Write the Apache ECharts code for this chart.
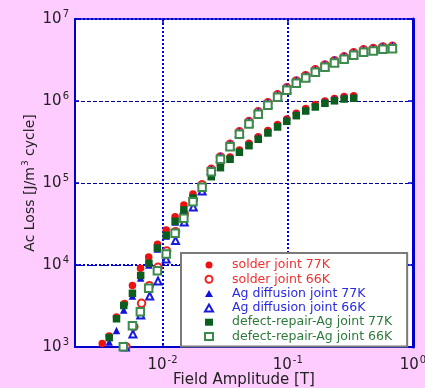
<!DOCTYPE html>
<html>
<head>
<meta charset="utf-8">
<script src="https://cdn.jsdelivr.net/npm/echarts@6/dist/echarts.min.js"></script>
<style>
  html, body { margin: 0; padding: 0; background: #ffccff; }
  #main { width: 425px; height: 388px; }
</style>
</head>
<body>
<div id="main"></div>
<script>
// [field amplitude (T), ac loss (J/m3 cycle)]
var solder77 = [
  [0.0033, 1100], [0.00375, 1360], [0.00429, 2320], [0.00497, 3400], [0.00575, 5620],
  [0.00667, 9120], [0.00775, 12500], [0.00912, 17900], [0.0107, 26700], [0.0126, 38800],
  [0.0148, 53900], [0.0175, 73500], [0.0207, 97200], [0.0245, 127800], [0.029, 164600],
  [0.0346, 208200], [0.0411, 253300], [0.049, 305100], [0.0581, 365200], [0.0694, 435900],
  [0.0829, 515600], [0.0982, 604800], [0.117, 708300], [0.139, 808300], [0.166, 904000],
  [0.198, 1003000], [0.236, 1075000], [0.282, 1131000], [0.336, 1155000]
];
var solder66 = [
  [0.0051, 1010], [0.0059, 1770], [0.0068, 3410], [0.00785, 5600], [0.0092, 9380],
  [0.0108, 14800], [0.0127, 25500], [0.0149, 41500], [0.0176, 63000], [0.0207, 94600],
  [0.0245, 147000], [0.029, 208200], [0.0346, 296900], [0.0411, 420300], [0.049, 561500],
  [0.0581, 737200], [0.0694, 949200], [0.0829, 1188000], [0.0982, 1450000], [0.117, 1759000],
  [0.139, 2039000], [0.166, 2401000], [0.198, 2756000], [0.236, 3107000], [0.282, 3459000],
  [0.336, 3873000], [0.403, 4203000], [0.482, 4359000], [0.575, 4568000], [0.685, 4649000]
];
var agDiff77 = [
  [0.00375, 1150], [0.00429, 1590], [0.0049, 2830], [0.00575, 4190], [0.00669, 6940],
  [0.00778, 10000], [0.00909, 15700], [0.0107, 22500], [0.0126, 33500], [0.0148, 46500],
  [0.0175, 66000], [0.0207, 90000], [0.0245, 123600], [0.029, 159200], [0.0346, 201400],
  [0.0411, 245000], [0.049, 295100], [0.0581, 353200], [0.0694, 421700], [0.0829, 498800],
  [0.0982, 585000], [0.117, 685200], [0.139, 781800], [0.166, 874600], [0.198, 970400],
  [0.236, 1040000], [0.282, 1094000], [0.336, 1117000]
];
var agDiff66 = [
  [0.00505, 1000], [0.0058, 1440], [0.0067, 2460], [0.0079, 4190], [0.0092, 6380],
  [0.0107, 11800], [0.0127, 19900], [0.0149, 33400], [0.0176, 50900], [0.0207, 79800],
  [0.0245, 142200], [0.029, 201400], [0.0346, 287200], [0.0411, 406500], [0.049, 543200],
  [0.0581, 713100], [0.0694, 918100], [0.0829, 1149000], [0.0982, 1402000], [0.117, 1702000],
  [0.139, 1973000], [0.166, 2323000], [0.198, 2666000], [0.236, 3006000], [0.282, 3346000],
  [0.336, 3747000], [0.403, 4065000], [0.482, 4217000], [0.575, 4418000], [0.685, 4497000]
];
var repair77 = [
  [0.00375, 1300], [0.00429, 2210], [0.0049, 3210], [0.00575, 4520], [0.00669, 7450],
  [0.00778, 10500], [0.00909, 16100], [0.0107, 23000], [0.0126, 34100], [0.0148, 46900],
  [0.0175, 65700], [0.0207, 89300], [0.0245, 119400], [0.029, 153800], [0.0346, 194600],
  [0.0411, 236700], [0.049, 285100], [0.0581, 341300], [0.0694, 407400], [0.0829, 481900],
  [0.0982, 565200], [0.117, 662000], [0.139, 755400], [0.166, 845000], [0.198, 937600],
  [0.236, 1005000], [0.282, 1057000], [0.336, 1079000]
];
var repair66 = [
  [0.00486, 1010], [0.00575, 1820], [0.00665, 2690], [0.00775, 5200], [0.0091, 8510],
  [0.0107, 13600], [0.0126, 24400], [0.0148, 37200], [0.0175, 59200], [0.0207, 88700],
  [0.0245, 137400], [0.029, 194600], [0.0346, 277500], [0.0411, 392800], [0.049, 524800],
  [0.0581, 689000], [0.0694, 887100], [0.0829, 1110000], [0.0982, 1355000], [0.117, 1644000],
  [0.139, 1906000], [0.166, 2244000], [0.198, 2576000], [0.236, 2904000], [0.282, 3233000],
  [0.336, 3620000], [0.403, 3928000], [0.482, 4074000], [0.575, 4269000], [0.685, 4345000]
];

var seriesNames = [
  'solder joint 77K', 'solder joint 66K',
  'Ag diffusion joint 77K', 'Ag diffusion joint 66K',
  'defect-repair-Ag joint 77K', 'defect-repair-Ag joint 66K'
];
var seriesData = [solder77, solder66, agDiff77, agDiff66, repair77, repair66];
var symbols = ['circle', 'emptyCircle', 'triangle', 'emptyTriangle', 'rect', 'emptyRect'];
var colors = ['#ee1111', '#ee2222', '#1111dd', '#1a1add', '#0b5e1e', '#3c8a4c'];
var textColors = ['#f03030', '#f03030', '#2a2ae6', '#2a2ae6', '#2e7a3c', '#2e7a3c'];
var sizes = [7.5, 7.5, 7.5, 7, 7.5, 7.5];

var BLUE = '#0000cc';

function powLabel(v) {
  var e = Math.log10(v);
  if (Math.abs(e - Math.round(e)) > 1e-6) return '';
  return '{b|10}{s|' + Math.round(e) + '}';
}

var labelRich = {
  b: { fontSize: 15, fontFamily: 'DejaVu Sans', color: '#222' },
  s: { fontSize: 10, fontFamily: 'DejaVu Sans', color: '#222', padding: [0, 0, 10, 1] }
};

var chart = echarts.init(document.getElementById('main'), null, { renderer: 'canvas' });

var series = seriesNames.map(function (name, i) {
  var empty = symbols[i].indexOf('empty') === 0;
  return {
    name: name,
    type: 'scatter',
    data: seriesData[i],
    symbol: symbols[i],
    symbolSize: sizes[i],
    clip: false,
    itemStyle: {
      color: colors[i],
      borderWidth: empty ? 1.3 : 0,
      opacity: 1
    },
    markLine: i === 0 ? {
      silent: true,
      z: 1,
      symbol: ['none', 'none'],
      label: { show: false },
      lineStyle: { type: 'dotted', width: 2, color: '#0000dd' },
      data: [{ yAxis: 10000 }]
    } : undefined
  };
});

var option = {
  backgroundColor: '#ffccff',
  animation: false,
  grid: {
    left: 75, top: 19, right: 12, bottom: 41,
    outerBoundsMode: 'none',
    show: true, backgroundColor: '#ffffff', borderWidth: 0
  },
  legend: {
    orient: 'vertical',
    left: 181,
    top: 253,
    z: 10,
    padding: [5, 15, 3, 23],
    itemWidth: 8,
    itemHeight: 7,
    itemGap: 0.3,
    backgroundColor: '#ffffff',
    borderColor: '#7a7a7a',
    borderWidth: 2,
    borderRadius: 0,
    textStyle: { fontSize: 12.5, fontFamily: 'DejaVu Sans', lineHeight: 14, padding: [0, 0, 0, 14] },
    data: seriesNames.map(function (name, i) {
      return { name: name, icon: symbols[i], textStyle: { color: textColors[i] } };
    })
  },
  xAxis: [{
    type: 'log',
    logBase: 10,
    min: 0.002,
    max: 1,
    name: 'Field Amplitude [T]',
    nameLocation: 'middle',
    nameGap: 26,
    nameMoveOverlap: false,
    nameTextStyle: { fontSize: 15, fontFamily: 'DejaVu Sans', color: '#222', verticalAlign: 'top' },
    axisLine: { lineStyle: { color: BLUE, width: 2 } },
    axisTick: { inside: true, length: 4, lineStyle: { color: BLUE, width: 1.5 } },
    minorTick: { show: false },
    axisLabel: { margin: 8, formatter: powLabel, rich: labelRich },
    splitLine: {
      show: true, showMinLine: false, showMaxLine: false,
      lineStyle: { type: 'dotted', width: 2, color: '#0000dd' }
    }
  }, {
    type: 'log',
    logBase: 10,
    min: 0.002,
    max: 1,
    position: 'top',
    axisLine: { lineStyle: { color: BLUE, width: 2, type: 'dotted' } },
    axisTick: { inside: true, length: 4, lineStyle: { color: BLUE, width: 1.5 } },
    axisLabel: { show: false },
    splitLine: { show: false }
  }],
  yAxis: [{
    type: 'log',
    logBase: 10,
    min: 1000,
    max: 10000000,
    name: '{a|Ac Loss [J/m}{s|3}{a| cycle]}',
    nameLocation: 'middle',
    nameGap: 35,
    nameMoveOverlap: false,
    nameTextStyle: {
      rich: {
        a: { fontSize: 14, fontFamily: 'DejaVu Sans', color: '#222' },
        s: { fontSize: 9, fontFamily: 'DejaVu Sans', color: '#222', padding: [0, 0, 10, 1] }
      }
    },
    axisLine: { lineStyle: { color: BLUE, width: 2 } },
    axisTick: { inside: true, length: 4, lineStyle: { color: BLUE, width: 1.5 } },
    axisLabel: { margin: 6, formatter: powLabel, rich: labelRich },
    splitLine: {
      show: true, showMinLine: false, showMaxLine: false,
      lineStyle: { type: [4, 2], width: 1, color: '#000099' }
    }
  }, {
    type: 'log',
    logBase: 10,
    min: 1000,
    max: 10000000,
    position: 'right',
    axisLine: { lineStyle: { color: BLUE, width: 3 } },
    axisTick: { inside: true, length: 5, lineStyle: { color: BLUE, width: 1.5 } },
    axisLabel: { show: false },
    splitLine: { show: false }
  }],
  series: series
};

chart.setOption(option);
</script>
</body>
</html>
